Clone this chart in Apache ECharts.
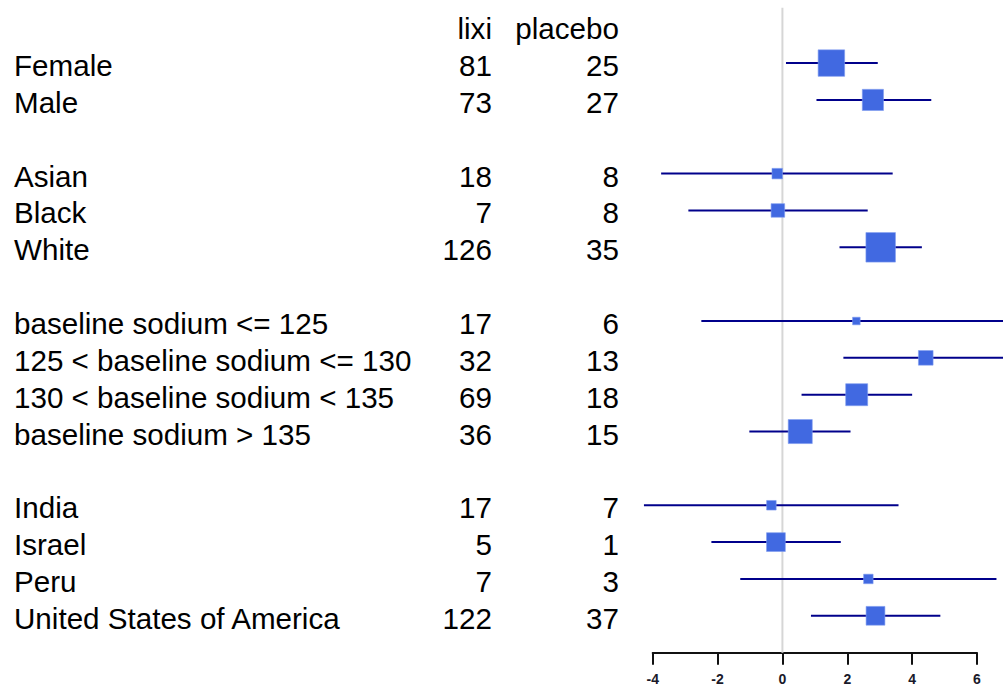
<!DOCTYPE html>
<html>
<head>
<meta charset="utf-8">
<script src="https://cdn.jsdelivr.net/npm/echarts@6/dist/echarts.min.js"></script>
<style>
html, body { margin: 0; padding: 0; background: #fff; }
#chart { width: 1003px; height: 698px; }
</style>
</head>
<body>
<div id="chart"></div>
<script>
// ---- data ----
const headers = ['lixi', 'placebo'];
const labels = ['Female', 'Male', null, 'Asian', 'Black', 'White', null,
  'baseline sodium <= 125', '125 < baseline sodium <= 130', '130 < baseline sodium < 135', 'baseline sodium > 135', null,
  'India', 'Israel', 'Peru', 'United States of America'];
const lixiN    = [81, 73, null, 18, 7, 126, null, 17, 32, 69, 36, null, 17, 5, 7, 122];
const placeboN = [25, 27, null, 8, 8, 35, null, 6, 13, 18, 15, null, 7, 1, 3, 37];
const estimate = [1.51, 2.79, null, -0.16, -0.14, 3.03, null, 2.28, 4.42, 2.29, 0.55, null, -0.34, -0.20, 2.65, 2.87];
const lower    = [0.11, 1.05, null, -3.74, -2.90, 1.76, null, -2.50, 1.88, 0.59, -1.02, null, -4.27, -2.19, -1.30, 0.88];
const upper    = [2.94, 4.59, null, 3.40, 2.63, 4.30, null, 7.40, 7.00, 4.00, 2.10, null, 3.58, 1.80, 6.60, 4.87];
const xTicks   = [-4, -2, 0, 2, 4, 6];
const refValue = 0;

// ---- build ----
const FONT = '"Liberation Sans", Arial, sans-serif';
const textRows = [];
textRows.push({ value: [0, 0], header: true });
labels.forEach((l, i) => {
  if (l !== null) textRows.push({ value: [0, i + 1], idx: i });
});
const forestData = [];
estimate.forEach((e, i) => {
  if (e !== null) forestData.push([e, i + 1, lower[i], upper[i]]);
});

const chart = echarts.init(document.getElementById('chart'), null, { renderer: 'svg' });

function txt(text, x, y, align) {
  return {
    type: 'text',
    style: { text: String(text), x: x, y: y, fill: '#000', fontSize: 29.6, fontFamily: FONT,
             align: align, verticalAlign: 'middle' }
  };
}

chart.setOption({
  animation: false,
  backgroundColor: '#fff',
  grid: { left: 652.7, right: 26, top: 7.8, bottom: 45.35, containLabel: false },
  xAxis: {
    type: 'value', min: xTicks[0], max: xTicks[xTicks.length - 1], interval: 2,
    splitLine: { show: false },
    axisLine: { onZero: false, lineStyle: { color: '#111', width: 2 } },
    axisTick: { length: 12, lineStyle: { color: '#111', width: 2 } },
    axisLabel: { fontSize: 14, color: '#1a1a2a', margin: 19, fontFamily: FONT, fontWeight: 'bold' }
  },
  yAxis: { type: 'value', inverse: true, min: -0.5, max: 17, show: false, splitLine: { show: false } },
  series: [
    {
      type: 'line', z: 1, silent: true, showSymbol: false,
      data: [[refValue, -0.5], [refValue, 17]],
      lineStyle: { color: '#d6d6d6', width: 2 }
    },
    {
      type: 'custom', z: 2, silent: true,
      data: forestData,
      encode: { x: [0, 2, 3], y: 1 },
      renderItem: function (params, api) {
        const row = api.value(1);
        const p = api.coord([api.value(0), row]);
        const lo = api.coord([api.value(2), row]);
        const hi = api.coord([api.value(3), row]);
        const s = 75 / (api.value(3) - api.value(2));
        return {
          type: 'group',
          children: [
            { type: 'line', shape: { x1: lo[0], y1: p[1], x2: hi[0], y2: p[1] },
              style: { stroke: '#00008B', lineWidth: 2 } },
            { type: 'rect', shape: { x: p[0] - s / 2, y: p[1] - s / 2, width: s, height: s },
              style: { fill: '#4169E1', stroke: '#7f9cf0', lineWidth: 0.6 } }
          ]
        };
      }
    },
    {
      type: 'custom', z: 3, silent: true,
      data: textRows,
      encode: { x: 0, y: 1 },
      renderItem: function (params, api) {
        const item = textRows[params.dataIndex];
        const y = api.coord([0, api.value(1)])[1] + 2.5;
        if (item.header) {
          return { type: 'group', children: [txt(headers[0], 492, y, 'right'), txt(headers[1], 619, y, 'right')] };
        }
        const i = item.idx;
        return {
          type: 'group',
          children: [
            txt(labels[i], 14, y, 'left'),
            txt(lixiN[i], 492, y, 'right'),
            txt(placeboN[i], 619, y, 'right')
          ]
        };
      }
    }
  ]
});
</script>
</body>
</html>
